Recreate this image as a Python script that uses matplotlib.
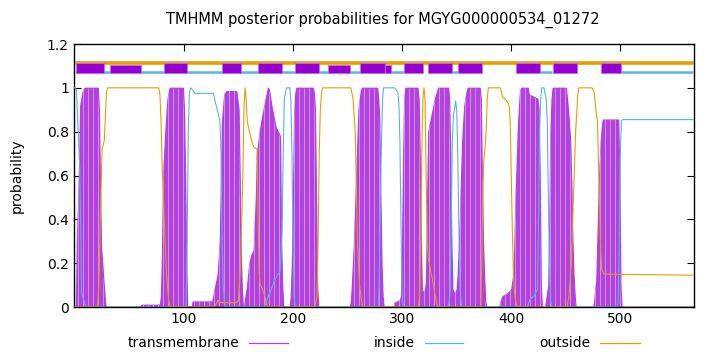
import numpy as np
import matplotlib
matplotlib.use('Agg')
import matplotlib.pyplot as plt
from matplotlib.lines import Line2D

seq_len = 568
title = 'TMHMM posterior probabilities for MGYG000000534_01272'

# posterior probabilities (residue, value)
tm_pts = [(1, 0), (2, 0.3), (4, 0.64), (5, 0.92), (7, 0.98), (9, 1), (21, 1), (22, 0.9), (23, 0.55),
          (24, 0.27), (26, 0.13), (28, 0), (60, 0), (61, 0.01), (78, 0.01), (79, 0.05), (80, 0.25),
          (81, 0.6), (83, 0.8), (85, 0.95), (87, 1.0), (99, 1.0), (100, 0.9), (101, 0.6), (102, 0.2),
          (103, 0), (107, 0), (108, 0.025), (126, 0.025), (127, 0.05), (129, 0.1), (131, 0.15),
          (133, 0.3), (134, 0.6), (135, 0.85), (137, 0.97), (139, 0.985), (148, 0.985), (150, 0.9),
          (151, 0.6), (152, 0.25), (153, 0.08), (154, 0), (155, 0), (156, 0.03), (158, 0.1), (160, 0.2),
          (162, 0.24), (164, 0.26), (166, 0.5), (167, 0.7), (169, 0.78), (171, 0.85), (173, 0.9),
          (175, 0.95), (177, 1.0), (178, 0.99), (180, 0.92), (182, 0.87), (184, 0.82), (186, 0.8),
          (188, 0.78), (189, 0.3), (190, 0.1), (191, 0), (197, 0), (198, 0.05), (199, 0.2), (200, 0.5),
          (201, 0.85), (202, 0.97), (203, 1.0), (218, 1.0), (219, 0.98), (220, 0.9), (221, 0.5),
          (222, 0.1), (223, 0), (252, 0), (253, 0.02), (254, 0.1), (256, 0.3), (258, 0.6), (260, 0.9),
          (262, 0.98), (263, 1.0), (277, 1.0), (278, 0.95), (279, 0.85), (280, 0.5), (281, 0.2),
          (282, 0.05), (283, 0), (292, 0), (293, 0.02), (298, 0.03), (299, 0.05), (300, 0.3), (301, 0.7),
          (302, 0.95), (303, 1.0), (314, 1.0), (315, 0.95), (316, 0.7), (317, 0.3), (318, 0.08),
          (320, 0.06), (321, 0.08), (322, 0.12), (323, 0.5), (324, 0.8), (326, 0.85), (328, 0.9),
          (330, 0.95), (333, 1.0), (342, 1.0), (343, 0.95), (344, 0.7), (345, 0.3), (346, 0.08),
          (348, 0.06), (350, 0.08), (351, 0.15), (353, 0.4), (355, 0.75), (357, 0.92), (359, 0.98),
          (360, 1.0), (371, 1.0), (372, 0.95), (373, 0.6), (374, 0.3), (375, 0.15), (376, 0.03),
          (377, 0), (389, 0), (390, 0.02), (392, 0.05), (396, 0.06), (400, 0.08), (402, 0.15),
          (403, 0.3), (404, 0.5), (405, 0.65), (406, 0.8), (407, 0.9), (408, 0.98), (409, 1.0),
          (415, 1.0), (416, 0.97), (424, 0.95), (425, 0.9), (426, 0.6), (427, 0.1), (428, 0),
          (431, 0), (432, 0.03), (434, 0.1), (435, 0.4), (436, 0.8), (437, 0.95), (438, 1.0),
          (450, 1.0), (451, 0.95), (452, 0.9), (454, 0.75), (455, 0.55), (456, 0.3), (457, 0.15),
          (458, 0.05), (459, 0), (475, 0), (476, 0.02), (477, 0.08), (478, 0.12), (479, 0.3),
          (480, 0.5), (481, 0.65), (482, 0.75), (483, 0.82), (484, 0.855), (498, 0.855), (499, 0.6),
          (500, 0.1), (501, 0), (568, 0)]

inside_pts = [(0, 1.0), (1.5, 0.99), (3, 0.81), (4.5, 0.64), (5.3, 0.38), (6.2, 0.06), (8.3, 0.03),
              (10, 0), (102, 0), (103, 0.3), (104, 0.8), (105, 0.98), (106, 1.0), (108, 0.99),
              (110, 0.975), (127, 0.975), (129, 0.93), (131, 0.89), (133, 0.85), (134, 0.7), (135, 0.3),
              (136, 0.1), (137, 0.02), (138, 0), (174, 0), (175, 0.02), (180, 0.08), (183, 0.12),
              (186, 0.15), (188, 0.16), (190, 0.35), (191, 0.7), (192, 0.95), (194, 1.0), (197, 1.0),
              (198, 0.95), (199, 0.7), (200, 0.3), (201, 0.05), (202, 0), (278, 0), (279, 0.1),
              (280, 0.5), (282, 0.95), (283, 1.0), (293, 1.0), (296, 0.98), (297, 0.93), (298, 0.75),
              (299, 0.35), (300, 0.05), (301, 0), (342, 0), (343, 0.02), (344, 0.07), (345, 0.4),
              (346, 0.75), (347, 0.88), (348, 0.9), (349, 0.94), (350, 0.9), (351, 0.7), (352, 0.35),
              (353, 0.1), (354, 0.02), (355, 0), (415, 0), (416, 0.02), (418, 0.04), (421, 0.05),
              (424, 0.08), (425, 0.4), (426, 0.8), (427, 0.95), (428, 1.0), (430, 1.0), (432, 0.95),
              (433, 0.85), (434, 0.5), (435, 0.2), (436, 0.03), (437, 0), (497, 0), (498, 0.02),
              (499, 0.3), (500, 0.7), (501, 0.85), (502, 0.855), (568, 0.855)]

outside_pts = [(0, 0), (21, 0), (22, 0.1), (23, 0.3), (24, 0.53), (25, 0.72), (27, 0.76), (29, 0.98),
               (30, 1.0), (77, 1.0), (78, 0.97), (79, 0.85), (80, 0.65), (82, 0.4), (84, 0.15),
               (86, 0.03), (87, 0), (128, 0), (130, 0.02), (131, 0.03), (134, 0.02), (148, 0.02),
               (150, 0.03), (152, 0.2), (154, 0.6), (155, 0.9), (156, 1.0), (157, 0.95), (158, 0.85),
               (160, 0.8), (162, 0.76), (164, 0.73), (167, 0.72), (168, 0.4), (169, 0.15), (170, 0.1),
               (172, 0.08), (174, 0.05), (176, 0.01), (177, 0), (220, 0), (222, 0.05), (223, 0.3),
               (224, 0.7), (225, 0.9), (226, 0.97), (227, 1.0), (253, 1.0), (255, 0.95), (257, 0.8),
               (258, 0.55), (259, 0.3), (261, 0.1), (263, 0.02), (264, 0), (315, 0), (316, 0.05),
               (317, 0.3), (318, 0.7), (319, 0.95), (320, 1.0), (321, 0.95), (322, 0.6), (323, 0.3),
               (324, 0.22), (326, 0.17), (328, 0.12), (330, 0.06), (332, 0.01), (333, 0), (372, 0),
               (373, 0.2), (374, 0.55), (375, 0.68), (376, 0.72), (377, 0.8), (378, 0.95), (379, 1.0),
               (390, 1.0), (391, 0.98), (392, 0.96), (396, 0.94), (398, 0.92), (399, 0.85), (400, 0.6),
               (401, 0.35), (402, 0.15), (403, 0.06), (405, 0), (451, 0), (453, 0.05), (455, 0.2),
               (457, 0.5), (459, 0.8), (461, 0.97), (462, 1.0), (474, 1.0), (476, 0.98), (477, 0.93),
               (478, 0.88), (479, 0.85), (480, 0.65), (481, 0.45), (482, 0.25), (483, 0.17), (485, 0.15),
               (568, 0.145)]

# predicted topology band at the top
tm_segments = [(1, 27), (82, 103), (135, 152), (168, 190), (202, 224), (261, 284), (302, 319),
               (324, 346), (351, 373), (404, 426), (438, 460), (482, 501)]
low_segments = [(32, 61), (232, 252), (284, 290)]
inside_segments = [(0, 302), (346, 351), (426, 437), (501, 567)]

purple = '#9400d3'
tm_col = '#b341df'
blue = '#56b4e9'
orange = '#e69f00'

plt.rcParams['font.family'] = 'DejaVu Sans'
plt.rcParams['font.size'] = 10

fig = plt.figure(figsize=(7.2, 3.52), dpi=100)
ax = fig.add_axes([0.1024, 0.1278, 0.8615, 0.7472])

tx, ty = zip(*tm_pts)
poly = ax.fill_between(tx, ty, 0, facecolor=tm_col, edgecolor=tm_col, lw=1.0, zorder=2)
# faint impulse gaps like gnuplot's impulses
gaps = ax.vlines(np.arange(3, seq_len, 4.6), 0, 1.0, colors='#d49ef0', lw=0.6, zorder=2.5)
gaps.set_clip_path(poly.get_paths()[0], ax.transData)

ix, iy = zip(*inside_pts)
ax.plot(ix, iy, color=blue, lw=0.8, zorder=3)
ox, oy = zip(*outside_pts)
ax.plot(ox, oy, color=orange, lw=0.8, zorder=3)
ax.plot([0, seq_len], [0, 0], color='#5a3a20', lw=1.0, zorder=3)

# topology band
ax.plot([0, seq_len], [1.112, 1.112], color=orange, lw=2.6, solid_capstyle='butt', zorder=4)
for a, b in inside_segments:
    ax.plot([a, b], [1.073, 1.073], color=blue, lw=1.8, solid_capstyle='butt', zorder=4)
for a, b in tm_segments:
    ax.add_patch(plt.Rectangle((a, 1.068), b - a, 0.045, facecolor=purple,
                               edgecolor='#c070e8', lw=0.6, zorder=5))
for a, b in low_segments:
    ax.add_patch(plt.Rectangle((a, 1.068), b - a, 0.034, facecolor=purple,
                               edgecolor='#c070e8', lw=0.6, zorder=5))

ax.set_xlim(-1, 567.5)
ax.set_ylim(0, 1.2)
ax.set_xticks([100, 200, 300, 400, 500])
ax.set_yticks([0, 0.2, 0.4, 0.6, 0.8, 1.0, 1.2])
ax.set_yticklabels(['0', '0.2', '0.4', '0.6', '0.8', '1', '1.2'])
ax.tick_params(direction='in', top=True, right=True, length=5, width=0.8)
for s in ax.spines.values():
    s.set_linewidth(1.0)
ax.set_ylabel('probability')
ax.yaxis.set_label_coords(-0.08, 0.5)
fig.text(0.532, 0.943, title, ha='center', va='center', fontsize=10.5)

# legend along the bottom
ly = 0.026
legend = [('transmembrane', tm_col, 239.6, 248.5, 288), ('inside', blue, 415, 425, 463),
          ('outside', orange, 590, 600, 640)]
for label, col, tx_end, l0, l1 in legend:
    fig.text(tx_end / 720, ly, label, ha='right', va='center')
    fig.add_artist(Line2D([l0 / 720, l1 / 720], [ly, ly], color=col, lw=0.9,
                          transform=fig.transFigure))

fig.savefig('out.png', dpi=100)
